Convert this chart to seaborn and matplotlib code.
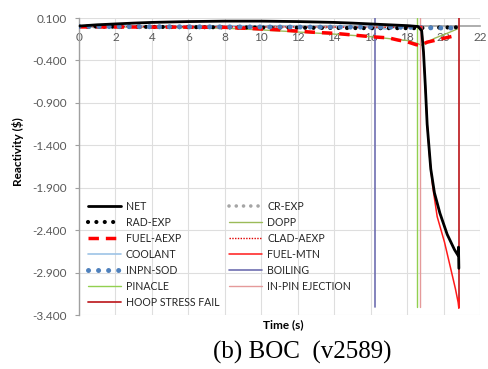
import numpy as np
import pandas as pd
import matplotlib
matplotlib.use("Agg")
import matplotlib.pyplot as plt
from matplotlib.ticker import FormatStrFormatter
import seaborn as sns

# ---- reactivity components vs. time ($) ----
net_t = [0, 1, 2, 3, 4, 6, 8, 10, 12, 14, 15, 16, 17, 18, 18.6,
         18.8, 18.9, 19.0, 19.1, 19.3, 19.5, 19.8, 20.2, 20.6, 20.8, 20.82, 20.84]
net_v = [0.005, 0.02, 0.03, 0.04, 0.048, 0.058, 0.063, 0.063, 0.058, 0.048, 0.04, 0.03, 0.02, 0.01, 0.0,
         -0.05, -0.3, -0.7, -1.15, -1.68, -1.96, -2.2, -2.45, -2.63, -2.7, -2.6, -2.85]

rad_t = [0, 4, 8, 12, 16, 18.6, 19.0, 20.0, 20.7]
rad_v = [0.0, -0.005, -0.01, -0.015, -0.02, -0.02, -0.015, -0.012, -0.01]

faexp_t = [0, 2, 4, 6, 8, 9, 10, 11, 12, 13, 14, 15, 16, 17, 17.5, 18, 18.5, 18.75,
           19.1, 19.8, 20.5]
faexp_v = [-0.005, -0.006, -0.007, -0.008, -0.01, -0.02, -0.03, -0.04, -0.055, -0.07, -0.08,
           -0.1, -0.12, -0.135, -0.16, -0.18, -0.215, -0.22, -0.185, -0.15, -0.115]

cool_t = [0, 4, 8, 12, 16, 16.5, 16.8, 17.1, 17.5, 18.6]
cool_v = [0.005, 0.005, 0.004, 0.003, 0.0, -0.02, -0.03, -0.02, -0.005, 0.0]

inpn_t = [0, 4, 8, 12, 16, 18.6, 19.0, 20.0, 20.7]
inpn_v = [0.0, -0.003, -0.005, -0.007, -0.008, -0.01, -0.015, -0.018, -0.018]

crexp_t = [0, 6, 12, 18.6]
crexp_v = [0.0, -0.002, -0.004, -0.005]

dopp_t = [0, 4, 8, 10, 12, 14, 16, 18, 18.55, 18.8, 19.5, 20.2, 20.75]
dopp_v = [0.0, -0.01, -0.02, -0.04, -0.065, -0.09, -0.12, -0.165, -0.2, -0.22, -0.14, -0.08, -0.03]

clad_t = [0, 6, 12, 18.6]
clad_v = [0.0, -0.003, -0.006, -0.01]

fmtn_t = [18.7, 18.8, 18.9, 19.0, 19.1, 19.25, 19.4, 19.65, 20.05, 20.4, 20.65, 20.8, 20.84, 20.86]
fmtn_v = [0.0, 0.0, -0.3, -0.7, -1.15, -1.57, -1.88, -2.24, -2.54, -2.86, -3.09, -3.25, -3.32, -3.2]

# event markers (time of event, drawn as vertical lines)
boil_t = [16.23, 16.23]
pinacle_t = [18.55, 18.55]
inpin_t = [18.7, 18.7]
hoop_t = [20.84, 20.84]
event_v = [0.1, -3.3]

x_ticks = list(range(0, 23, 2))
y_ticks = [0.1, -0.4, -0.9, -1.4, -1.9, -2.4, -2.9, -3.4]

sns.set_theme(style="white")
plt.rcParams["font.family"] = ["Lato", "DejaVu Sans"]
plt.rcParams["axes.unicode_minus"] = False

fig = plt.figure(figsize=(4.88, 3.69), dpi=100)
ax = fig.add_axes([79 / 488, 1 - 315 / 369, (480 - 79) / 488, (315 - 18) / 369])

def draw(t, v, label, color, lw, ls="-", **kw):
    sns.lineplot(x=t, y=v, ax=ax, color=color, lw=lw, linestyle=ls, label=label,
                 estimator=None, sort=False, **kw)

dots = (0, (0.01, 2.0))
# draw order follows legend order (two columns)
draw(net_t, net_v, "NET", "black", 2.0, zorder=6)
draw(rad_t, rad_v, "RAD-EXP", "black", 3.0, dots, dash_capstyle="round", zorder=5)
draw(faexp_t, faexp_v, "FUEL-AEXP", "#ff0000", 2.5, (0, (3, 2)), zorder=5)
draw(cool_t, cool_v, "COOLANT", "#9dc3e6", 1.2, zorder=4)
draw(inpn_t, inpn_v, "INPN-SOD", "#4f81bd", 3.6, dots, dash_capstyle="round", zorder=5)
draw(pinacle_t, event_v, "PINACLE", "#92d050", 1.0, zorder=3)
draw(hoop_t, event_v, "HOOP STRESS FAIL", "#c0262b", 1.3, zorder=3)
draw(crexp_t, crexp_v, "CR-EXP", "#a5a5a5", 2.6, dots, dash_capstyle="round", zorder=4)
draw(dopp_t, dopp_v, "DOPP", "#9bbb59", 1.0, zorder=3)
draw(clad_t, clad_v, "CLAD-AEXP", "#e00000", 1.0, (0, (1, 1)), zorder=4)
draw(fmtn_t, fmtn_v, "FUEL-MTN", "#ff1a1a", 1.1, zorder=5.5)
draw(boil_t, event_v, "BOILING", "#6e6eb0", 1.2, zorder=3)
draw(inpin_t, event_v, "IN-PIN EJECTION", "#e59a9a", 1.0, zorder=3)

ax.set_xlim(0, 22)
ax.set_ylim(-3.4, 0.1)
ax.set_xticks(x_ticks)
ax.set_yticks(y_ticks)
ax.yaxis.set_major_formatter(FormatStrFormatter("%.3f"))
ax.grid(True, color="#dedede", lw=0.8)
ax.set_axisbelow(True)

for s in ("top", "right"):
    ax.spines[s].set_visible(False)
ax.spines["bottom"].set_position(("data", 0))
ax.spines["bottom"].set_color("#a0a0a0")
ax.spines["bottom"].set_linewidth(1.2)
ax.spines["left"].set_color("#a0a0a0")
ax.spines["left"].set_linewidth(1.0)

ax.tick_params(axis="x", length=0, pad=4, labelsize=8.5, labelcolor="#595959")
ax.tick_params(axis="y", direction="out", length=3, width=0.8, color="#a0a0a0",
               pad=6, labelsize=8.5, labelcolor="#595959", left=True)
ax.set_xlabel("")
ax.set_ylabel("")

handles, labels = ax.get_legend_handles_labels()
ax.legend(handles, labels, ncol=2, frameon=False, fontsize=7.6,
          loc="upper left", bbox_to_anchor=(88 / 488, 1 - 201 / 369),
          bbox_transform=fig.transFigure, borderaxespad=0, borderpad=0,
          handlelength=3.1, handletextpad=0.5, columnspacing=0.9, labelspacing=0.47)

fig.text(18 / 488, 1 - 152 / 369, r"Reactivity (\$)", rotation=90, ha="center", va="center",
         fontsize=8.5, fontweight="bold", color="black")
fig.text(283 / 488, 1 - 325 / 369, "Time (s)", ha="center", va="center",
         fontsize=8.5, fontweight="bold", color="black")
fig.text(302 / 488, 1 - 352 / 369, "(b) BOC  (v2589)", ha="center", va="center",
         fontsize=18, family=["Liberation Serif", "DejaVu Serif"], color="black")

fig.savefig("out.png", dpi=100)
